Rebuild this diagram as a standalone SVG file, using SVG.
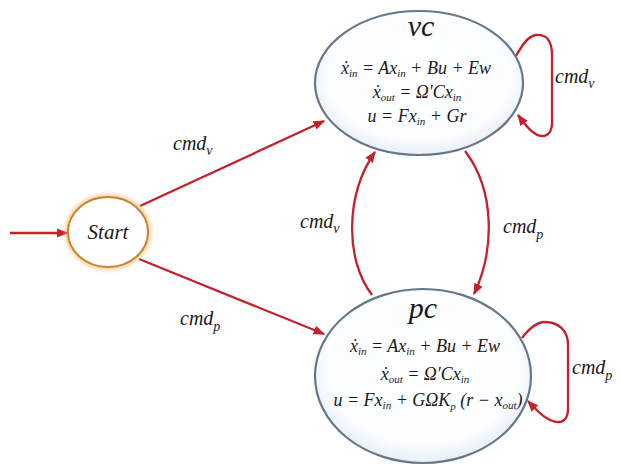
<svg xmlns="http://www.w3.org/2000/svg" width="623" height="476" viewBox="0 0 623 476">
<defs>
<radialGradient id="blue" cx="50%" cy="45%" r="62%">
<stop offset="0" stop-color="#ffffff"/>
<stop offset="0.72" stop-color="#fbfdff"/>
<stop offset="1" stop-color="#dbe6f2"/>
</radialGradient>
<filter id="glow" x="-30%" y="-30%" width="160%" height="160%">
<feGaussianBlur stdDeviation="2"/>
</filter>
<marker id="ah" viewBox="0 0 10 10" refX="9" refY="5" markerWidth="5" markerHeight="5" orient="auto" markerUnits="strokeWidth">
<path d="M0,1 L10,5 L0,9 z" fill="#c4212b"/>
</marker>
</defs>
<style>
.eq{font-size:18px;text-anchor:middle}
.title{font-size:30px;text-anchor:middle}
.lbl{font-size:20px}
.sub{font-size:11px}
.ls{font-size:14px}
.edge{fill:none;stroke:#c4212b;stroke-width:2.3;marker-end:url(#ah)}
.state{fill:url(#blue);stroke:#66778c;stroke-width:2.2}
</style>
<rect width="623" height="476" fill="#ffffff"/>
<g id="connectors">
<line class="edge" x1="10" y1="233" x2="67" y2="233"/>
<line class="edge" x1="140" y1="206" x2="324" y2="121"/>
<line class="edge" x1="139" y1="259" x2="324" y2="334"/>
<path class="edge" d="M372,295 C345,260 345,195 375,152"/>
<path class="edge" d="M465,151 C495,190 495,250 474,294"/>
<path class="edge" d="M516,56 C522,45 528,36 536,35 C546,34 552,40 552,55 L552,122 C552,132 548,136 542,136 C534,136 526,126 518,115"/>
<path class="edge" d="M522,338 C528,330 536,322 545,322 C558,322 568,330 568,345 L568,408 C568,418 564,422 558,422 C548,422 538,412 528,401"/>
</g>
<g font-family="Liberation Serif, DejaVu Serif, serif" font-style="italic" fill="#1a1a1a">
<g id="start">
<ellipse cx="108" cy="232" rx="40" ry="35" fill="none" stroke="#f2b46a" stroke-width="5" filter="url(#glow)" opacity="0.8"/>
<ellipse cx="108" cy="232" rx="40" ry="35" fill="#ffffff" stroke="#c9852e" stroke-width="2"/>
<text x="108" y="239" class="eq" style="font-size:21px">Start</text>
</g>
<g id="vc">
<ellipse class="state" cx="419" cy="83" rx="104" ry="72"/>
<text x="421" y="36" class="title">vc</text>
<text x="416" y="74" class="eq">ẋ<tspan class="sub" dy="3">in</tspan><tspan dy="-3"> = Ax</tspan><tspan class="sub" dy="3">in</tspan><tspan dy="-3"> + Bu + Ew</tspan></text>
<text x="417" y="98" class="eq">ẋ<tspan class="sub" dy="3">out</tspan><tspan dy="-3"> = Ω′Cx</tspan><tspan class="sub" dy="3">in</tspan></text>
<text x="417" y="122" class="eq">u = Fx<tspan class="sub" dy="3">in</tspan><tspan dy="-3"> + Gr</tspan></text>
</g>
<g id="pc">
<ellipse class="state" cx="423" cy="376" rx="108" ry="87"/>
<text x="423" y="318" class="title">pc</text>
<text x="425" y="352" class="eq">ẋ<tspan class="sub" dy="3">in</tspan><tspan dy="-3"> = Ax</tspan><tspan class="sub" dy="3">in</tspan><tspan dy="-3"> + Bu + Ew</tspan></text>
<text x="425" y="380" class="eq">ẋ<tspan class="sub" dy="3">out</tspan><tspan dy="-3"> = Ω′Cx</tspan><tspan class="sub" dy="3">in</tspan></text>
<text x="428" y="406" class="eq">u = Fx<tspan class="sub" dy="3">in</tspan><tspan dy="-3"> + GΩK</tspan><tspan class="sub" dy="4">p</tspan><tspan dy="-4"> (r − x</tspan><tspan class="sub" dy="3">out</tspan><tspan dy="-3">)</tspan></text>
</g>
<g id="labels">
<text x="173" y="150" class="lbl">cmd<tspan class="ls" dy="5">v</tspan></text>
<text x="180" y="325" class="lbl">cmd<tspan class="ls" dy="6">p</tspan></text>
<text x="300" y="228" class="lbl">cmd<tspan class="ls" dy="5">v</tspan></text>
<text x="503" y="233" class="lbl">cmd<tspan class="ls" dy="6">p</tspan></text>
<text x="555" y="83" class="lbl">cmd<tspan class="ls" dy="5">v</tspan></text>
<text x="572" y="374" class="lbl">cmd<tspan class="ls" dy="6">p</tspan></text>
</g>
</g>
</svg>
